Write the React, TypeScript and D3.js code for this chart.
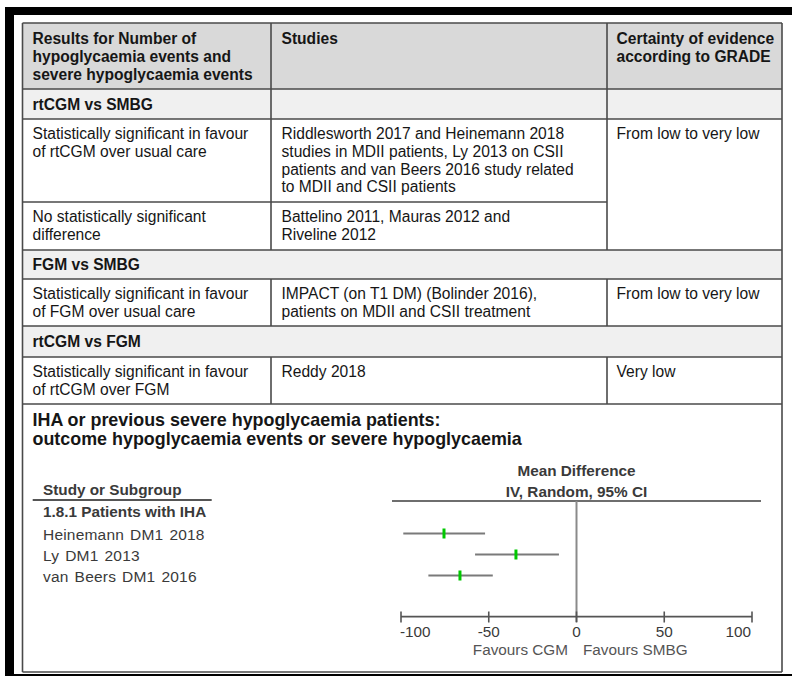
import React from "react";
import * as d3 from "d3";

// ---------- Data ----------
const headerCols = [
  ["Results for Number of", "hypoglycaemia events and", "severe hypoglycaemia events"],
  ["Studies"],
  ["Certainty of evidence", "according to GRADE"],
];

const sectionTitles = ["rtCGM vs SMBG", "FGM vs SMBG", "rtCGM vs FGM"];

const resultTexts = [
  ["Statistically significant in favour", "of rtCGM over usual care"],
  ["No statistically significant", "difference"],
  ["Statistically significant in favour", "of FGM over usual care"],
  ["Statistically significant in favour", "of rtCGM over FGM"],
];

const studyTexts = [
  ["Riddlesworth 2017 and Heinemann 2018", "studies in MDII patients, Ly 2013 on CSII", "patients and van Beers 2016 study related", "to MDII and CSII patients"],
  ["Battelino 2011, Mauras 2012 and", "Riveline 2012"],
  ["IMPACT (on T1 DM) (Bolinder 2016),", "patients on MDII and CSII treatment"],
  ["Reddy 2018"],
];

const certaintyTexts = ["From low to very low", "From low to very low", "Very low"];

const forestTitle = ["IHA or previous severe hypoglycaemia patients:", "outcome hypoglycaemia events or severe hypoglycaemia"];
const subgroupLabel = "1.8.1 Patients with IHA";
const forestStudies = ["Heinemann DM1 2018", "Ly DM1 2013", "van Beers DM1 2016"];
const meanDiff = [-75.5, -34.5, -66.4];
const ciLow = [-98.7, -57.8, -84.4];
const ciHigh = [-52.1, -10.0, -47.7];
const axisTicks = [-100, -50, 0, 50, 100];

// ---------- Layout ----------
const FONT = "'Liberation Sans', Arial, Helvetica, sans-serif";
const BORDER = "#4a4a4a";
const TXT = "#161616";
const FS = 15.6;
const LH = 17.7;

const X0 = 22.5, X1 = 271, X2 = 607, X3 = 782;
const rowY = {
  head: [23, 89],
  sec1: [89, 119],
  r1: [119, 202],
  r2: [202, 250],
  sec2: [250, 279],
  r3: [279, 326],
  sec3: [326, 357],
  r4: [357, 404],
  forest: [404, 672],
};

function Lines({ x, y, lines, bold = false, size = FS, lh = LH, fill = TXT, anchor = "start" }: any) {
  return (
    <text x={x} y={y} fontFamily={FONT} fontSize={size} fontWeight={bold ? "bold" : "normal"} fill={fill} textAnchor={anchor}>
      {lines.map((l: string, i: number) => (
        <tspan key={i} x={x} y={y + i * lh}>{l}</tspan>
      ))}
    </text>
  );
}

export default function App() {
  const xs = d3.scaleLinear().domain([-100, 100]).range([401, 752]);
  const rowCenters = [533.5, 554.5, 575.5];
  const GRAY = "#3a3a3a";

  const hl = (y: number, xa: number, xb: number, k: string) => (
    <line key={k} x1={xa} x2={xb} y1={y} y2={y} stroke={BORDER} strokeWidth={1.6} />
  );
  const vl = (x: number, ya: number, yb: number, k: string) => (
    <line key={k} x1={x} x2={x} y1={ya} y2={yb} stroke={BORDER} strokeWidth={1.6} />
  );

  const resultRows = [rowY.r1, rowY.r2, rowY.r3, rowY.r4];

  return (
    <svg width={792} height={676} style={{ position: "absolute", left: 0, top: 0, background: "#fff" }}>
      {/* black frame */}
      <rect x={5} y={7} width={787} height={8} fill="#000" />
      <rect x={5} y={7} width={9} height={669} fill="#000" />
      <rect x={14} y={674} width={778} height={2} fill="#000" />

      {/* backgrounds */}
      <rect x={X0} y={rowY.head[0]} width={X3 - X0} height={rowY.head[1] - rowY.head[0]} fill="#d9d9d9" />
      {[rowY.sec1, rowY.sec2, rowY.sec3].map((r, i) => (
        <rect key={i} x={X0} y={r[0]} width={X3 - X0} height={r[1] - r[0]} fill="#f0f0f0" />
      ))}

      {/* horizontal borders */}
      {hl(rowY.head[0], X0, X3, "h0")}
      {hl(rowY.head[1], X0, X3, "h1")}
      {hl(rowY.sec1[1], X0, X3, "h2")}
      {hl(rowY.r1[1], X0, X2, "h3")}
      {hl(rowY.r2[1], X0, X3, "h4")}
      {hl(rowY.sec2[1], X0, X3, "h5")}
      {hl(rowY.r3[1], X0, X3, "h6")}
      {hl(rowY.sec3[1], X0, X3, "h7")}
      {hl(rowY.r4[1], X0, X3, "h8")}
      {hl(rowY.forest[1], X0, X3, "h9")}
      {/* vertical borders */}
      {vl(X0, rowY.head[0], rowY.forest[1], "v0")}
      {vl(X3, rowY.head[0], rowY.forest[1], "v3")}
      {vl(X1, rowY.head[0], rowY.r2[1], "v1a")}
      {vl(X2, rowY.head[0], rowY.r2[1], "v2a")}
      {vl(X1, rowY.r3[0], rowY.r3[1], "v1b")}
      {vl(X2, rowY.r3[0], rowY.r3[1], "v2b")}
      {vl(X1, rowY.r4[0], rowY.r4[1], "v1c")}
      {vl(X2, rowY.r4[0], rowY.r4[1], "v2c")}

      {/* header text */}
      <Lines x={32.5} y={44.3} lines={headerCols[0]} bold />
      <Lines x={281.5} y={44.3} lines={headerCols[1]} bold />
      <Lines x={616.5} y={44.3} lines={headerCols[2]} bold />

      {/* section titles */}
      <Lines x={32.5} y={110} lines={[sectionTitles[0]]} bold />
      <Lines x={32.5} y={270} lines={[sectionTitles[1]]} bold />
      <Lines x={32.5} y={346.7} lines={[sectionTitles[2]]} bold />

      {/* result rows */}
      {resultRows.map((r, i) => (
        <g key={i}>
          <Lines x={32.5} y={r[0] + 20.3} lines={resultTexts[i]} />
          <Lines x={281.5} y={r[0] + 20.3} lines={studyTexts[i]} />
        </g>
      ))}
      <Lines x={616.5} y={rowY.r1[0] + 20.3} lines={[certaintyTexts[0]]} />
      <Lines x={616.5} y={rowY.r3[0] + 20.3} lines={[certaintyTexts[1]]} />
      <Lines x={616.5} y={rowY.r4[0] + 20.3} lines={[certaintyTexts[2]]} />

      {/* forest plot title */}
      <Lines x={32.5} y={426} lines={forestTitle} bold size={17.9} lh={19} />

      {/* forest left column */}
      <text x={43} y={495} fontFamily={FONT} fontSize={15.3} fontWeight="bold" fill={GRAY}>Study or Subgroup</text>
      <line x1={32.7} x2={211.7} y1={500} y2={500} stroke="#555" strokeWidth={1.8} />
      <text x={43} y={516.7} fontFamily={FONT} fontSize={15.3} fontWeight="bold" fill={GRAY}>{subgroupLabel}</text>
      {forestStudies.map((s, i) => (
        <text key={s} x={43} y={rowCenters[i] + 6.5} fontFamily={FONT} fontSize={15.5} fill={GRAY} letterSpacing={0.2} wordSpacing={1.5}>{s}</text>
      ))}

      {/* forest header */}
      <text x={xs(0)} y={475.7} textAnchor="middle" fontFamily={FONT} fontSize={15.3} fontWeight="bold" fill={GRAY}>Mean Difference</text>
      <text x={xs(0)} y={496.7} textAnchor="middle" fontFamily={FONT} fontSize={15.3} fontWeight="bold" fill={GRAY}>IV, Random, 95% CI</text>
      <line x1={392} x2={761} y1={501} y2={501} stroke="#6e6e6e" strokeWidth={2} />

      {/* zero line */}
      <line x1={xs(0)} x2={xs(0)} y1={501} y2={622} stroke="#8a8a8a" strokeWidth={2} />

      {/* CIs and points */}
      {forestStudies.map((s, i) => (
        <g key={s}>
          <line x1={xs(ciLow[i])} x2={xs(ciHigh[i])} y1={rowCenters[i]} y2={rowCenters[i]} stroke="#7a7a7a" strokeWidth={2} />
          <rect x={xs(meanDiff[i]) - 1.5} y={rowCenters[i] - 5} width={3} height={10} fill="#00c800" />
        </g>
      ))}

      {/* axis */}
      <line x1={xs(-100)} x2={xs(100)} y1={616.7} y2={616.7} stroke="#555" strokeWidth={1.8} />
      {axisTicks.map((t) => (
        <line key={t} x1={xs(t)} x2={xs(t)} y1={611.5} y2={622.5} stroke="#555" strokeWidth={1.6} />
      ))}
      {axisTicks.map((t, i) => (
        <text key={t} x={i === 0 ? xs(t) - 1 : i === axisTicks.length - 1 ? xs(t) - 1 : xs(t)} y={636.7}
          textAnchor={i === 0 ? "start" : i === axisTicks.length - 1 ? "end" : "middle"}
          fontFamily={FONT} fontSize={15.3} fill={GRAY}>{String(t)}</text>
      ))}
      <text x={568} y={655} textAnchor="end" fontFamily={FONT} fontSize={15.3} fill="#555">Favours CGM</text>
      <text x={583} y={655} textAnchor="start" fontFamily={FONT} fontSize={15.3} fill="#555">Favours SMBG</text>
    </svg>
  );
}
